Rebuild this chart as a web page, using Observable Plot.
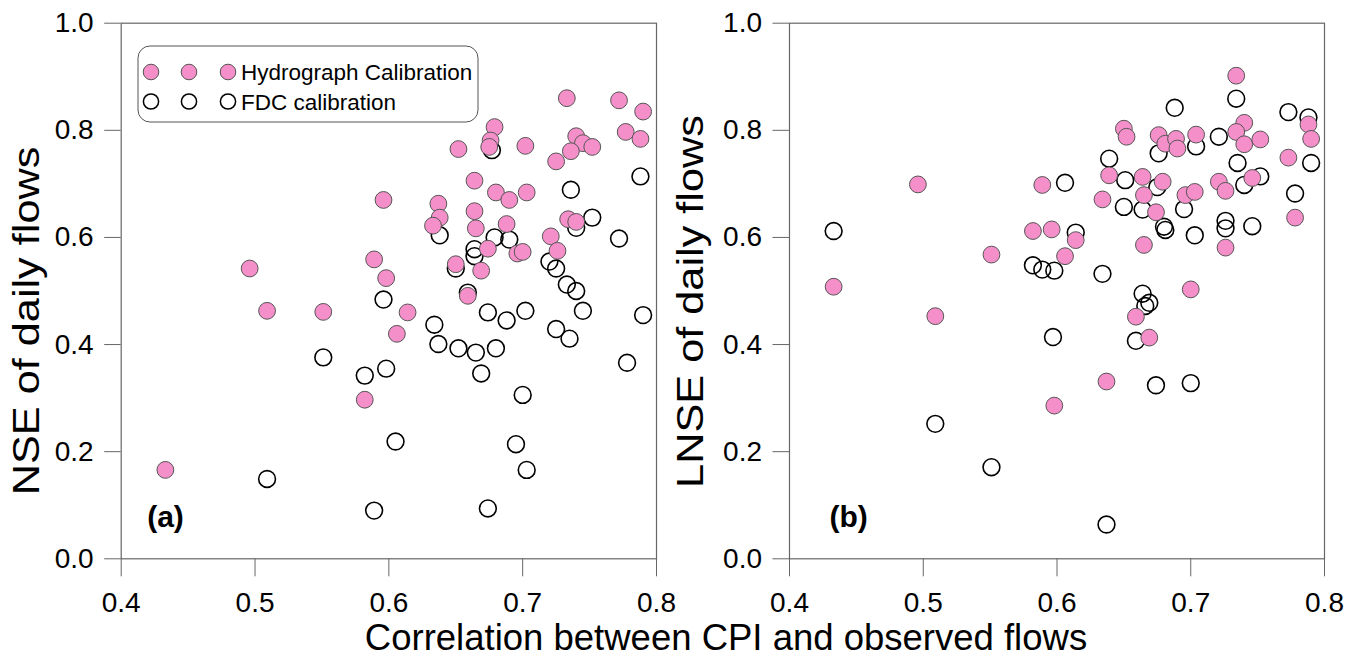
<!DOCTYPE html>
<html><head><meta charset="utf-8">
<script src="https://cdn.jsdelivr.net/npm/d3@7"></script>
<script src="https://cdn.jsdelivr.net/npm/@observablehq/plot@0.6"></script>
<style>
html,body{margin:0;padding:0;background:#fff;}
#wrap{position:relative;width:1348px;height:657px;overflow:hidden;font-family:"Liberation Sans",Arial,sans-serif;}
</style></head><body><div id="wrap"></div>
<script>
// ---- data ----
const xTicks = [0.4, 0.5, 0.6, 0.7, 0.8];
const yTicks = [0, 0.2, 0.4, 0.6, 0.8, 1.0];
const legendLabels = ["Hydrograph Calibration", "FDC calibration"];
const panelTags = ["(a)", "(b)"];
const yTitles = ["NSE of daily flows", "LNSE of daily flows"];
const xTitle = "Correlation between CPI and observed flows";

// Panel (a): NSE
const hydroA_x = [0.733,0.772,0.790,0.679,0.676,0.675,0.652,0.702,0.777,0.788,0.740,0.745,0.752,0.736,0.725,0.664,0.680,0.690,0.703,0.596,0.637,0.638,0.633,0.664,0.665,0.688,0.734,0.740,0.721,0.726,0.674,0.696,0.700,0.650,0.669,0.589,0.598,0.496,0.659,0.509,0.551,0.614,0.606,0.582,0.433];
const hydroA_y = [0.860,0.856,0.835,0.806,0.781,0.769,0.765,0.771,0.797,0.784,0.789,0.776,0.769,0.761,0.742,0.706,0.684,0.670,0.684,0.670,0.663,0.637,0.622,0.649,0.617,0.625,0.634,0.629,0.602,0.575,0.579,0.570,0.573,0.550,0.538,0.559,0.524,0.542,0.491,0.463,0.461,0.460,0.420,0.297,0.166];
const fdcA_x = [0.677,0.788,0.736,0.752,0.772,0.740,0.638,0.679,0.690,0.664,0.664,0.650,0.720,0.725,0.733,0.740,0.659,0.596,0.674,0.688,0.702,0.745,0.790,0.634,0.637,0.652,0.665,0.680,0.725,0.735,0.551,0.598,0.582,0.669,0.700,0.778,0.605,0.695,0.703,0.509,0.589,0.674];
const fdcA_y = [0.763,0.714,0.689,0.637,0.598,0.618,0.604,0.600,0.596,0.578,0.565,0.542,0.555,0.542,0.512,0.500,0.497,0.484,0.460,0.445,0.463,0.463,0.455,0.437,0.401,0.393,0.385,0.393,0.429,0.411,0.376,0.355,0.342,0.346,0.306,0.366,0.219,0.214,0.166,0.149,0.090,0.094];

// Panel (b): LNSE
const hydroB_x = [0.734,0.740,0.734,0.740,0.752,0.788,0.790,0.773,0.778,0.650,0.652,0.676,0.681,0.689,0.690,0.704,0.639,0.664,0.679,0.665,0.696,0.703,0.721,0.726,0.746,0.634,0.589,0.496,0.674,0.582,0.596,0.614,0.606,0.551,0.665,0.726,0.433,0.700,0.509,0.659,0.669,0.637,0.598];
const hydroB_y = [0.902,0.814,0.797,0.774,0.783,0.811,0.784,0.749,0.637,0.803,0.788,0.791,0.775,0.784,0.766,0.792,0.716,0.713,0.704,0.679,0.679,0.685,0.704,0.687,0.711,0.671,0.698,0.699,0.647,0.612,0.615,0.595,0.565,0.568,0.586,0.581,0.508,0.503,0.453,0.452,0.413,0.331,0.286];
const fdcB_x = [0.734,0.688,0.773,0.788,0.721,0.704,0.676,0.639,0.735,0.790,0.752,0.740,0.651,0.675,0.606,0.778,0.650,0.664,0.695,0.726,0.726,0.746,0.680,0.681,0.703,0.614,0.433,0.582,0.589,0.598,0.634,0.664,0.666,0.669,0.597,0.659,0.674,0.700,0.509,0.551,0.637];
const fdcB_y = [0.859,0.842,0.834,0.824,0.788,0.770,0.757,0.747,0.739,0.739,0.714,0.698,0.707,0.694,0.702,0.682,0.657,0.652,0.653,0.631,0.617,0.621,0.620,0.614,0.604,0.609,0.612,0.548,0.540,0.538,0.532,0.495,0.472,0.478,0.414,0.407,0.324,0.328,0.252,0.171,0.064];

const PINK = "#F58FC9";
const FONT = "'Liberation Sans', Arial, sans-serif";

function panel(hx, hy, fx, fy, tag, width, ml, mr, tagDx) {
  const hydro = hx.map((x, i) => ({x, y: hy[i]}));
  const fdc = fx.map((x, i) => ({x, y: fy[i]}));
  return Plot.plot({
    width, height: 620,
    marginLeft: ml, marginRight: mr, marginTop: 22.7, marginBottom: 61.7,
    style: {fontFamily: FONT, fontSize: "28px", color: "#000", background: "transparent", overflow: "visible"},
    x: {domain: [0.4, 0.8]},
    y: {domain: [0, 1]},
    marks: [
      Plot.frame({stroke: "#666", strokeWidth: 1.2}),
      Plot.axisX({ticks: xTicks, tickFormat: d3.format(".1f"), tickSize: 18, tickPadding: 15, stroke: "#666", label: null}),
      Plot.axisY({ticks: yTicks, tickFormat: d3.format(".1f"), tickSize: 16.5, tickPadding: 11, stroke: "#666", label: null}),
      Plot.dot(fdc, {x: "x", y: "y", r: 8.4, fill: "none", stroke: "#000", strokeWidth: 1.6}),
      Plot.dot(hydro, {x: "x", y: "y", r: 8.4, fill: PINK, stroke: "#555", strokeWidth: 1}),
      Plot.text([tag], {text: d => d, frameAnchor: "bottom-left", textAnchor: "start", dx: tagDx, dy: -32, fontSize: 30, fontWeight: "bold", fill: "#000"})
    ]
  });
}

const wrap = document.getElementById("wrap");
const pa = panel(hydroA_x, hydroA_y, fdcA_x, fdcA_y, panelTags[0], 670, 120.7, 14, 26);
pa.style.position = "absolute"; pa.style.left = "0px"; pa.style.top = "0px";
wrap.appendChild(pa);
const pb = panel(hydroB_x, hydroB_y, fdcB_x, fdcB_y, panelTags[1], 678, 119, 24, 40);
pb.style.position = "absolute"; pb.style.left = "670px"; pb.style.top = "0px";
wrap.appendChild(pb);

// overlay: titles and legend
const ov = d3.create("svg").attr("width", 1348).attr("height", 657)
  .style("position", "absolute").style("left", "0px").style("top", "0px")
  .style("font-family", FONT);

ov.append("text").attr("x", 726).attr("y", 650).attr("text-anchor", "middle")
  .attr("font-size", 36.5).attr("fill", "#000").text(xTitle);

ov.append("text").attr("transform", "translate(39.3,321) rotate(-90) scale(1.17,1)")
  .attr("text-anchor", "middle").attr("font-size", 37).attr("fill", "#000").text(yTitles[0]);
ov.append("text").attr("transform", "translate(703,301.5) rotate(-90) scale(1.17,1)")
  .attr("text-anchor", "middle").attr("font-size", 37).attr("fill", "#000").text(yTitles[1]);

const lg = ov.append("g").attr("transform", "translate(138,46)");
lg.append("rect").attr("width", 340).attr("height", 76).attr("rx", 12).attr("ry", 12)
  .attr("fill", "#fff").attr("stroke", "#555").attr("stroke-width", 1);
[13, 51, 90].forEach(cx => {
  lg.append("circle").attr("cx", cx).attr("cy", 26).attr("r", 7.8).attr("fill", PINK).attr("stroke", "#555").attr("stroke-width", 1);
  lg.append("circle").attr("cx", cx).attr("cy", 55.5).attr("r", 7.6).attr("fill", "none").attr("stroke", "#000").attr("stroke-width", 1.5);
});
lg.append("text").attr("x", 103).attr("y", 34).attr("font-size", 22.5).attr("fill", "#000").text(legendLabels[0]);
lg.append("text").attr("x", 103).attr("y", 63.5).attr("font-size", 22.5).attr("fill", "#000").text(legendLabels[1]);

wrap.appendChild(ov.node());
</script></body></html>
